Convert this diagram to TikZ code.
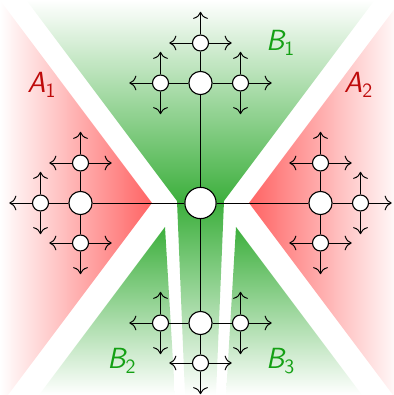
\documentclass[tikz,border=0pt]{standalone}
\usepackage{amsmath}
\usepackage{tikz}
\usetikzlibrary{calc, arrows.meta}

\definecolor{regA}{RGB}{255,100,100}
\definecolor{regB}{RGB}{60,175,60}
\definecolor{labA}{RGB}{190,10,10}
\definecolor{labB}{RGB}{20,160,20}

\begin{document}
\begin{tikzpicture}[vtx/.style={circle,draw,fill=white,line width=0.8pt,inner sep=0pt},
    root/.style={vtx,minimum size=0.78cm},
    mid/.style={vtx,minimum size=0.58cm},
    leaf/.style={vtx,minimum size=0.4cm},
    lbl/.style={font=\huge\sffamily\slshape},
    line width=0.7pt]
        \tikzset{>={To[scale=1.6]}}

        % Frame
        \useasboundingbox (-5.0125,-4.8) rectangle (4.8375,5.075);
        \clip (-5.0125,-4.8) rectangle (4.8375,5.075);

        % Red regions A_1, A_2
        \shade[left color=white, right color=regA] (-1.2125,0) -- (-5.02,5.08) -- (-5.02,-4.8) -- (-4.8125,-4.8) -- cycle;
        \shade[left color=regA, right color=white] (1.2125,0) -- (5.02,5.08) -- (5.02,-4.8) -- (4.8125,-4.8) -- cycle;

        % Green region B_1: upper part and the strip below the root
        \shade[top color=white, bottom color=regB]
          (-4.356,5.075) -- (-0.5875,0.05) -- (-0.586,0) -- (0.586,0) -- (0.5875,0.05) -- (4.356,5.075) -- cycle;
        \shade[top color=regB, bottom color=white]
          (-0.5875,0.05) -- (-0.3875,-4.8) -- (0.3875,-4.8) -- (0.5875,0.05) -- cycle;

        % Green regions B_2, B_3
        \shade[top color=regB, bottom color=white] (-0.8875,-0.6) -- (-0.6375,-4.8) -- (-4.0375,-4.8) -- cycle;
        \shade[top color=regB, bottom color=white] (0.8875,-0.6) -- (0.6375,-4.8) -- (4.0375,-4.8) -- cycle;

        % Root
        \node[root] (c) at (0,0) {};

        % Tree, two levels, then arrows
        \foreach \a in {0,90,180,270} {
          \node[mid] (v\a) at (\a:3) {};
          \draw (c) -- (v\a);
          \foreach \t in {-90,0,90} {
            \pgfmathtruncatemacro{\b}{mod(\a+\t+360,360)}
            \node[leaf] (v\a-\b) at ($(v\a)+(\b:1)$) {};
            \draw (v\a) -- (v\a-\b);
            \foreach \s in {-90,0,90} {
              \pgfmathtruncatemacro{\d}{mod(\b+\s+360,360)}
              \coordinate (t\a-\b-\d) at ($(v\a-\b)+(\d:0.78)$);
              \draw[->] (v\a-\b) -- (t\a-\b-\d);
            }
          }
        }

        % Labels
        \node[lbl,text=labA] (a1) at (-3.97,2.95) {A$_\mathsf{1}$};
        \node[lbl,text=labA] (a2) at (3.95,2.95) {A$_\mathsf{2}$};
        \node[lbl,text=labB] (b1) at (2.0,4.0) {B$_\mathsf{1}$};
        \node[lbl,text=labB] (b2) at (-1.97,-3.95) {B$_\mathsf{2}$};
        \node[lbl,text=labB] (b3) at (2.0,-3.95) {B$_\mathsf{3}$};
    \end{tikzpicture}
\end{document}
